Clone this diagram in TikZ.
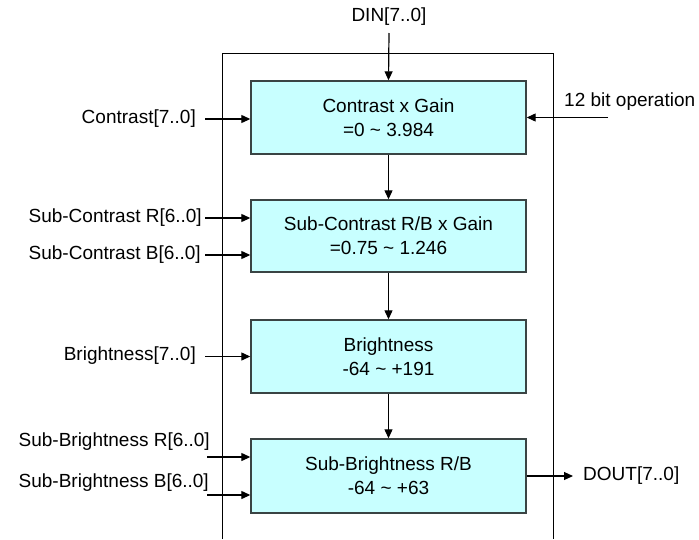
\documentclass[tikz,border=0pt]{standalone}
\usepackage{fontspec}
\setmainfont{Liberation Sans}
\usepackage{tikz}
\usetikzlibrary{arrows.meta,calc}
\definecolor{boxfill}{HTML}{C8FFFF}
\definecolor{boxline}{HTML}{3A4444}
\tikzset{
    stage/.style={draw=boxline,line width=1.4pt,fill=boxfill,minimum width=275pt,
      inner sep=0pt,align=center,font=\fontsize{19}{24}\selectfont},
    sig/.style={inner sep=0pt,font=\fontsize{19}{22}\selectfont},
    flow/.style={line width=1.2pt,-{Triangle[length=9pt,width=8pt]}}
}
\begin{document}
\begin{tikzpicture}[x=1pt,y=-1pt]
\useasboundingbox (0,0) rectangle (699,539);
% outer frame
\draw[line width=0.9pt] (222,539) |- (553,53) -- (553,539);
% stages
\node[stage,minimum height=73pt] (gain) at (388.5,117.5) {Contrast x Gain\\=0 \textasciitilde{} 3.984};
\node[stage,minimum height=72pt] (subgain) at (388.5,236) {Sub-Contrast R/B x Gain\\=0.75 \textasciitilde{} 1.246};
\node[stage,minimum height=73pt] (bright) at (388.5,356.5) {Brightness\\-64 \textasciitilde{} +191};
\node[stage,minimum height=74pt] (subbright) at (388.5,476) {Sub-Brightness R/B\\-64 \textasciitilde{} +63};
% signal labels
\node[sig] (din) at (389,17) {DIN[7..0]};
\node[sig,anchor=east] (con) at (196,119) {Contrast[7..0]};
\node[sig,anchor=west] (op) at (564,102) {12 bit operation};
\node[sig,anchor=east] (scr) at (202,218) {Sub-Contrast R[6..0]};
\node[sig,anchor=east] (scb) at (201,255) {Sub-Contrast B[6..0]};
\node[sig,anchor=east] (bri) at (196,356) {Brightness[7..0]};
\node[sig,anchor=east] (sbr) at (210,442) {Sub-Brightness R[6..0]};
\node[sig,anchor=east] (sbb) at (209,483) {Sub-Brightness B[6..0]};
\node[sig,anchor=west] (dout) at (583,476) {DOUT[7..0]};
% free ends
\coordinate (dinend) at (389,33);
\coordinate (conend) at (205,119);
\coordinate (opend) at (608,117.5);
\coordinate (scrend) at (205,218);
\coordinate (scbend) at (205,255);
\coordinate (briend) at (205,356.5);
\coordinate (sbrend) at (207,457);
\coordinate (sbbend) at (207,495);
% connectors
\draw[flow] (dinend) -- (gain.north);
\draw[flow] (gain) -- (subgain);
\draw[flow] (subgain) -- (bright);
\draw[flow] (bright) -- (subbright);
\draw[flow] (conend) -- (gain.west |- conend);
\draw[flow] (opend) -- (gain.east |- opend);
\draw[flow] (scrend) -- (subgain.west |- scrend);
\draw[flow] (scbend) -- (subgain.west |- scbend);
\draw[flow] (briend) -- (bright.west |- briend);
\draw[flow] (sbrend) -- (subbright.west |- sbrend);
\draw[flow] (sbbend) -- (subbright.west |- sbbend);
\draw[flow,shorten >=10pt] (subbright.east) -- (dout.west);
\end{tikzpicture}
\end{document}
